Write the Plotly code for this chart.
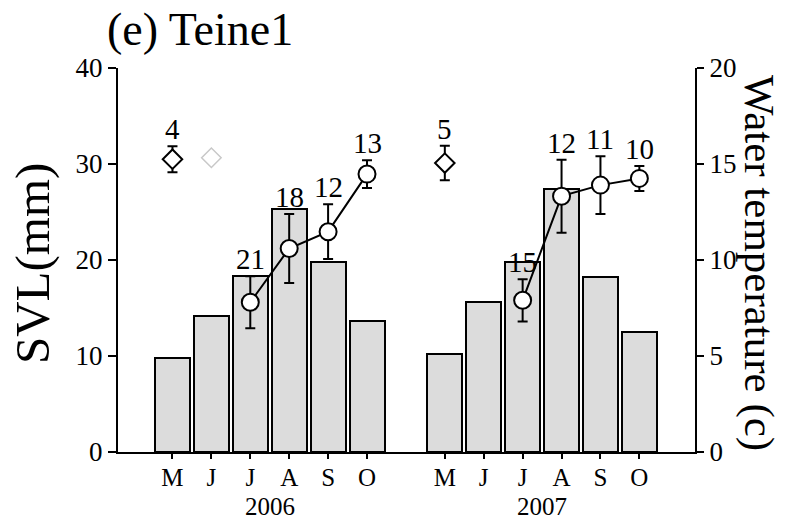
import plotly.graph_objects as go

# Month slots: 2006 on 0-5, 2007 on 7-12 (slot 6 left empty as a gap)
months = ["M", "J", "J", "A", "S", "O"]
years = ["2006", "2007"]
x2006 = [0, 1, 2, 3, 4, 5]
x2007 = [7, 8, 9, 10, 11, 12]

# Water temperature (bars, right axis)
temp2006 = [4.9, 7.1, 9.15, 12.65, 9.9, 6.8]
temp2007 = [5.1, 7.8, 9.9, 13.7, 9.1, 6.25]

# SVL of larvae (circles) Jul-Oct, mean and error
svl_x2006 = [2, 3, 4, 5]
svl2006 = [15.6, 21.2, 22.95, 28.95]
err2006 = [2.7, 3.6, 2.85, 1.45]
n2006 = ["21", "18", "12", "13"]

svl_x2007 = [9, 10, 11, 12]
svl2007 = [15.8, 26.65, 27.8, 28.5]
err2007 = [2.2, 3.8, 3.0, 1.3]
n2007 = ["15", "12", "11", "10"]

# Overwintered larvae in May (diamonds)
may_x = [0, 7]
may_svl = [30.5, 30.1]
may_err = [1.35, 1.8]
may_n = ["4", "5"]

# Single faint record in June 2006
faint_x = [1.0]
faint_svl = [30.65]

serif = "Liberation Serif"
fig = go.Figure()

fig.add_trace(go.Bar(
    x=x2006 + x2007, y=temp2006 + temp2007, width=0.9,
    marker=dict(color="#dcdcdc", line=dict(color="black", width=2)),
    yaxis="y", showlegend=False,
))

for xs, ys, es in [(svl_x2006, svl2006, err2006), (svl_x2007, svl2007, err2007)]:
    fig.add_trace(go.Scatter(
        x=xs, y=ys, mode="lines+markers", yaxis="y2", showlegend=False,
        line=dict(color="black", width=2),
        marker=dict(symbol="circle", size=17, color="white",
                    line=dict(color="black", width=2)),
        error_y=dict(type="data", array=es, visible=True, color="black",
                     thickness=2, width=5),
    ))

fig.add_trace(go.Scatter(
    x=may_x, y=may_svl, mode="markers", yaxis="y2", showlegend=False,
    marker=dict(symbol="diamond", size=15, color="white",
                line=dict(color="black", width=2)),
    error_y=dict(type="data", array=may_err, visible=True, color="black",
                 thickness=2, width=5),
))

fig.add_trace(go.Scatter(
    x=faint_x, y=faint_svl, mode="markers", yaxis="y2", showlegend=False,
    marker=dict(symbol="diamond", size=15, color="white",
                line=dict(color="#c8c8c8", width=1.5)),
))

annotations = []
# sample sizes above the error bars
for xs, ys, es, ns in [(svl_x2006, svl2006, err2006, n2006),
                       (svl_x2007, svl2007, err2007, n2007),
                       (may_x, may_svl, may_err, may_n)]:
    for xv, yv, ev, nv in zip(xs, ys, es, ns):
        annotations.append(dict(
            x=xv, y=yv + ev, xref="x", yref="y2", text=nv, showarrow=False,
            yanchor="bottom", yshift=-1,
            font=dict(family=serif, size=29, color="black"),
        ))

# year labels under the month ticks
for xs, yr in [(x2006, years[0]), (x2007, years[1])]:
    annotations.append(dict(
        x=(xs[0] + xs[-1]) / 2, y=-0.142, xref="x", yref="paper", text=yr,
        showarrow=False, yanchor="middle",
        font=dict(family=serif, size=25, color="black"),
    ))

annotations += [
    dict(x=0.142, y=1.10, xref="paper", yref="paper", text="(e) Teine1",
         showarrow=False, yanchor="middle", xanchor="center",
         font=dict(family=serif, size=46, color="black")),
    dict(x=-0.147, y=0.49, xref="paper", yref="paper", text="SVL(mm)",
         showarrow=False, textangle=-90, xanchor="center", yanchor="middle",
         font=dict(family=serif, size=49, color="black")),
    dict(x=1.111, y=0.492, xref="paper", yref="paper", text="Water temperature (c)",
         showarrow=False, textangle=90, xanchor="center", yanchor="middle",
         font=dict(family=serif, size=43, color="black")),
]

tickfont = dict(family=serif, size=27, color="black")

fig.update_layout(
    width=785, height=521,
    margin=dict(l=118, r=90, t=68, b=69),
    paper_bgcolor="white", plot_bgcolor="white",
    bargap=0,
    xaxis=dict(
        range=[-1.4, 13.43], tickmode="array",
        tickvals=x2006 + x2007, ticktext=months + months,
        ticks="outside", ticklen=5, tickwidth=1.5, tickcolor="black",
        ticklabelstandoff=-3,
        showline=True, linecolor="black", linewidth=2,
        showgrid=False, zeroline=False,
        tickfont=dict(family=serif, size=25, color="black"),
    ),
    yaxis=dict(
        side="right", range=[0, 20], tickvals=[0, 5, 10, 15, 20],
        ticks="outside", ticklen=7, tickwidth=1.5, tickcolor="black",
        showline=True, linecolor="black", linewidth=2,
        showgrid=False, zeroline=False, tickfont=tickfont,
    ),
    yaxis2=dict(
        side="left", overlaying="y", range=[0, 40],
        tickvals=[0, 10, 20, 30, 40],
        ticks="outside", ticklen=8, tickwidth=1.5, tickcolor="black",
        showline=True, linecolor="black", linewidth=2,
        showgrid=False, zeroline=False, tickfont=tickfont,
    ),
    annotations=annotations,
)

fig.write_html("out.html")
